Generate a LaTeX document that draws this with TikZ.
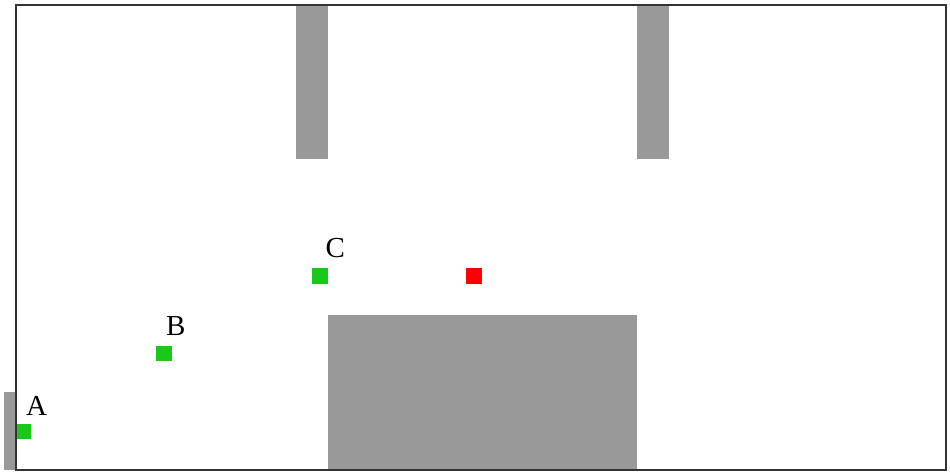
\documentclass[tikz,border=0pt]{standalone}
\usepackage{fontspec}
\setmainfont{Liberation Serif}
\definecolor{wallgray}{RGB}{153,153,153}
\definecolor{ptgreen}{RGB}{25,200,25}
\definecolor{ptred}{RGB}{255,0,0}
\definecolor{framec}{RGB}{50,50,50}
\begin{document}
\begin{tikzpicture}[x=1pt,y=-1pt,
  wall/.style={fill=wallgray,draw=none},
  gpt/.style={fill=ptgreen,draw=none},
  rpt/.style={fill=ptred,draw=none},
  lbl/.style={anchor=base west,inner sep=0pt,font=\fontsize{29}{30}\selectfont}]
\useasboundingbox (0,0) rectangle (950,471);
% walls / obstacles
\fill[wall] (296,4) rectangle (328,159);
\fill[wall] (637,4) rectangle (669,159);
\fill[wall] (328,315) rectangle (637,470);
\fill[wall] (4,392) rectangle (16,470);
% points
\fill[gpt] (16,423.5) rectangle (31,439);
\fill[gpt] (156,345.5) rectangle (171.5,361);
\fill[gpt] (312,268) rectangle (327.5,283.5);
\fill[rpt] (466,267.5) rectangle (482,283.5);
% labels
\node[lbl] (la) at (26,415) {A};
\node[lbl] (lb) at (166,335) {B};
\node[lbl] (lc) at (325.5,257) {C};
% frame
\draw[framec,line width=2pt] (15.7,4.6) rectangle (946,469.6);
\end{tikzpicture}
\end{document}
